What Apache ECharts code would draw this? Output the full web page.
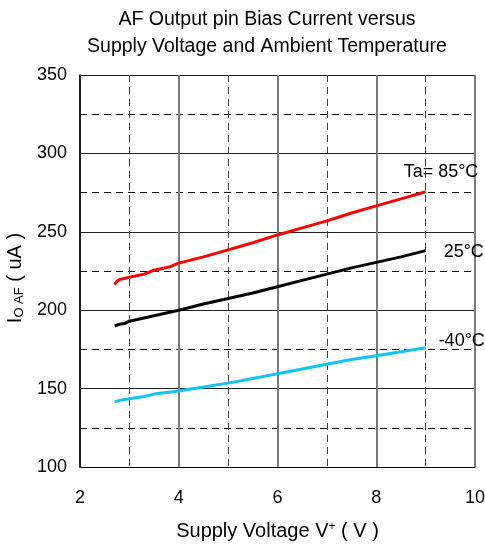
<!DOCTYPE html>
<html><head><meta charset="utf-8">
<script src="https://cdn.jsdelivr.net/npm/echarts@6/dist/echarts.min.js"></script>
<style>html,body{margin:0;padding:0;background:#fff}#c{width:485px;height:548px}</style>
</head><body><div id="c"></div>
<script>
const titleLines = ['AF Output pin Bias Current versus', 'Supply Voltage and Ambient Temperature'];
const xTicks = [2, 4, 6, 8, 10];
const yTicks = [100, 150, 200, 250, 300, 350];
const seriesNames = ['Ta= 85°C', '25°C', '-40°C'];
const v85 = [[2.7,216.3],[2.75,218.5],[2.8,219.5],[3,221],[3.3,223],[3.5,225.5],[3.8,227.5],[4,230],[4.5,234],[5,238.5],[5.5,243],[6,248],[6.5,252.5],[7,257],[7.5,262],[8,266.5],[8.5,271],[9,275.5]];
const v25 = [[2.7,190],[2.8,191],[2.9,191.5],[3,193],[3.5,196.5],[4,200],[4.5,204],[5,207.5],[5.5,211],[6,215],[6.5,219],[7,223],[7.5,227],[8,230.5],[8.5,234],[9,238]];
const vm40 = [[2.7,141.5],[2.8,142.5],[3,143.5],[3.3,145],[3.5,146.5],[4,148.5],[4.5,151],[5,153.5],[5.5,156.5],[6,159.5],[6.5,162.5],[7,165.5],[7.5,168.5],[8,171],[8.5,173.5],[9,176]];

const chart = echarts.init(document.getElementById('c'), null, {renderer:'canvas'});
const font = 'Liberation Sans, Arial, sans-serif';
function mkSeries(name, data, color, offset){
  return {
    name, type:'line', data, showSymbol:false, symbol:'none',
    lineStyle:{color, width:3}, itemStyle:{color},
    endLabel:{show:true, formatter:name, color:'#000', fontFamily:font, fontSize:18, offset, align:'left', verticalAlign:'middle'},
    animation:false
  };
}
chart.setOption({
  animation:false,
  title:{
    text: titleLines.join('\n'), left:262, top:1, textAlign:'center',
    textStyle:{fontFamily:font, fontSize:19.5, fontWeight:'normal', color:'#000', lineHeight:27}
  },
  grid:{left:80, right:10, top:75, bottom:81, outerBoundsMode:'none', containLabel:false},
  xAxis:{
    type:'value', min:2, max:10, interval:2,
    axisLine:{show:true, lineStyle:{color:'#000', width:1}},
    axisTick:{show:false},
    axisLabel:{color:'#000', fontFamily:font, fontSize:18, margin:22, customValues: xTicks},
    splitLine:{show:true, lineStyle:{color:'#7a7a7a', width:2}},
    minorTick:{show:false, splitNumber:2},
    minorSplitLine:{show:true, lineStyle:{color:'#444', width:1, type:[7,5]}},
    name:'Supply Voltage V{sup|+} ( V )', nameLocation:'middle', nameGap:54,
    nameTextStyle:{color:'#000', fontFamily:font, fontSize:20,
      rich:{sup:{fontSize:12, verticalAlign:'top', padding:[0,0,9,0], fontFamily:font, color:'#000'}}}
  },
  yAxis:{
    type:'value', min:100, max:350, interval:50,
    axisLine:{show:true, lineStyle:{color:'#000', width:1.5}},
    axisTick:{show:false},
    axisLabel:{color:'#000', fontFamily:font, fontSize:18, margin:13, customValues: yTicks},
    splitLine:{show:true, lineStyle:{color:'#222', width:1}},
    minorTick:{show:false, splitNumber:2},
    minorSplitLine:{show:true, lineStyle:{color:'#111', width:1, type:[7,5]}},
    name:'{a|I}{b|O AF}{a| ( uA )}', nameLocation:'middle', nameGap:46, nameRotate:90,
    nameTextStyle:{color:'#000', fontFamily:font, fontSize:20, padding:[0,14,0,0],
      rich:{a:{fontSize:20, fontFamily:font, color:'#000'}, b:{fontSize:13, fontFamily:font, color:'#000', padding:[8,0,0,0]}}}
  },
  series:[
    mkSeries(seriesNames[0], v85, '#ff0000', [-30,-20]),
    mkSeries(seriesNames[1], v25, '#000000', [10,1]),
    mkSeries(seriesNames[2], vm40, '#12c4f4', [5,-7])
  ]
});
</script></body></html>
